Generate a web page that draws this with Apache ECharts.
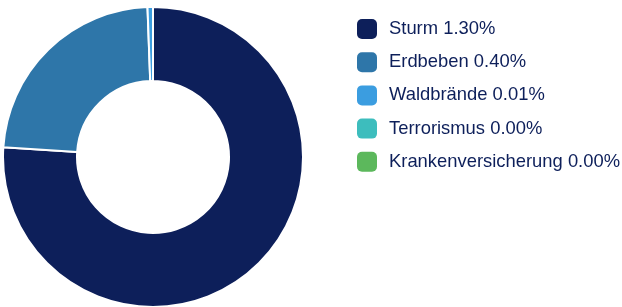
<!DOCTYPE html>
<html><head><meta charset="utf-8">
<script src="https://cdn.jsdelivr.net/npm/echarts@6/dist/echarts.min.js"></script>
<style>html,body{margin:0;padding:0;background:#fff}#c{width:622px;height:307px}</style>
</head><body><div id="c"></div>
<script>
const categories = ["Sturm", "Erdbeben", "Waldbrände", "Terrorismus", "Krankenversicherung"];
const values = [1.30, 0.40, 0.01, 0.00, 0.00];
const colors = ["#0d1f5a", "#2e76a9", "#3b9de0", "#3dbdbd", "#5cb85c"];

const chart = echarts.init(document.getElementById('c'), null, {renderer: 'canvas'});
const data = categories.map((n, i) => ({name: n, value: values[i], itemStyle: {color: colors[i]}}));
chart.setOption({
  animation: false,
  legend: {
    orient: 'vertical',
    left: 357,
    top: 19,
    padding: 0,
    itemWidth: 20,
    itemHeight: 20,
    itemGap: 13.2,
    icon: 'roundRect',
    itemStyle: {borderWidth: 0},
    data: categories,
    formatter: function (name) {
      const i = categories.indexOf(name);
      return name + ' ' + values[i].toFixed(2) + '%';
    },
    textStyle: {fontFamily: 'Liberation Sans, Arial, sans-serif', fontSize: 18.4, lineHeight: 20, color: '#0d1f5a', padding: [0, 0, 0, 7]}
  },
  series: [{
    type: 'pie',
    center: [153, 157],
    radius: [76, 150],
    startAngle: 90,
    clockwise: true,
    label: {show: false},
    labelLine: {show: false},
    emphasis: {disabled: true},
    itemStyle: {borderColor: '#fff', borderWidth: 2},
    data: data
  }]
});
</script></body></html>
